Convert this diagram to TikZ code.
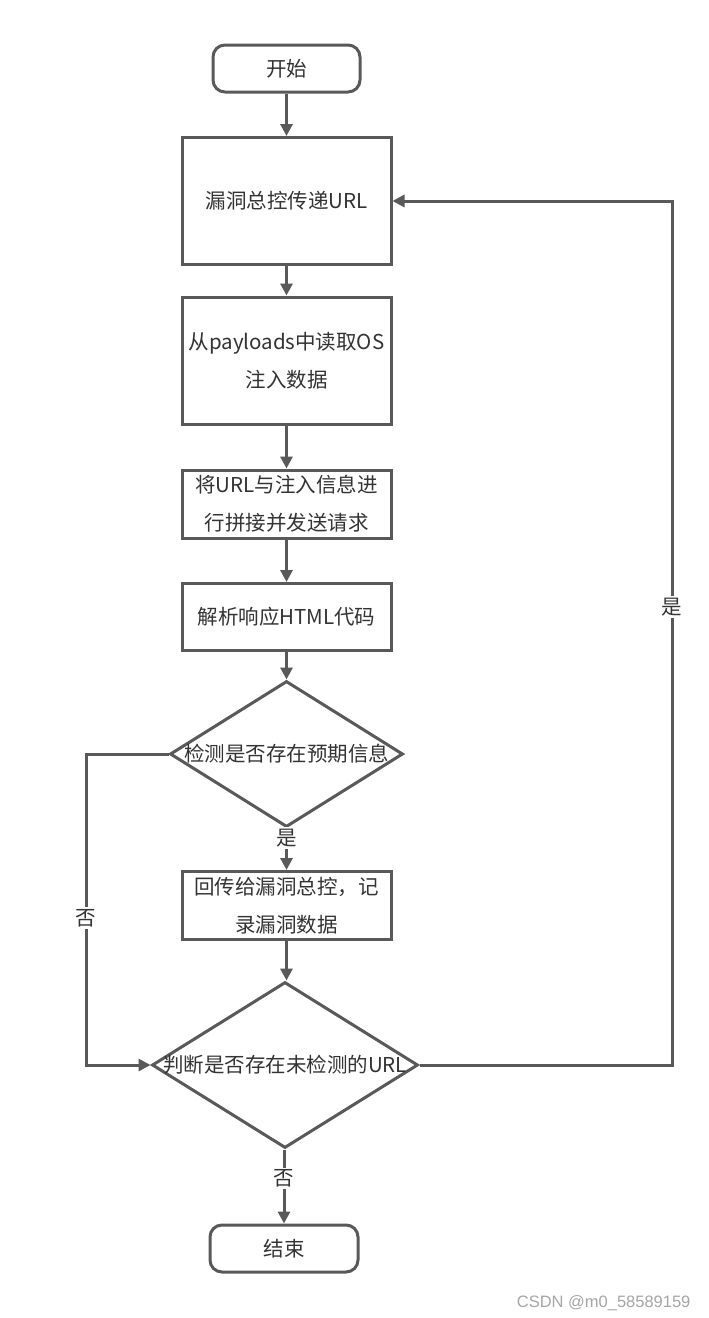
\documentclass[tikz,border=0pt]{standalone}
\usepackage{fontspec}
\setmainfont{Noto Sans CJK SC}
\newfontfamily\wmfont{Liberation Sans}
\usetikzlibrary{arrows.meta,shapes.geometric}
\definecolor{lc}{HTML}{595959}
\definecolor{tc}{HTML}{333333}
\definecolor{wm}{HTML}{A6A6A6}
\begin{document}
\begin{tikzpicture}[x=1pt,y=-1pt,
  every node/.style={text=tc,font=\fontsize{20.5}{38}\selectfont},
  box/.style={draw=lc,line width=3pt,rectangle,inner sep=0pt,minimum width=209pt,align=center},
  term/.style={draw=lc,line width=3pt,rectangle,rounded corners=12pt,inner sep=0pt,minimum width=147pt,minimum height=47pt},
  dia/.style={draw=lc,line width=3pt,diamond,inner sep=0pt},
  arr/.style={draw=lc,line width=3pt,-{Triangle[length=12pt,width=12pt]}},
  lbl/.style={fill=white,inner sep=2pt}]
\useasboundingbox (0,0) rectangle (709,1318);
\fill[white] (0,0) rectangle (709,1318);

\node[term] (start) at (286.5,68.5) {开始};
\node[box,minimum height=127pt] (b1) at (286.5,201) {漏洞总控传递URL};
\node[box,minimum height=127pt] (b2) at (286.5,360.5) {从payloads中读取OS\\注入数据};
\node[box,minimum height=68pt] (b3) at (286.5,504) {将URL与注入信息进\\行拼接并发送请求};
\node[box,minimum height=67pt] (b4) at (286.5,617) {解析响应HTML代码};
\node[dia,minimum width=233pt,minimum height=146pt] (d1) at (286.5,754) {};
\node (t1) at (d1.center) {检测是否存在预期信息};
\node[box,minimum height=68pt] (b5) at (286.5,905.5) {回传给漏洞总控，记\\录漏洞数据};
\node[dia,minimum width=266pt,minimum height=166pt] (d2) at (285,1065) {};
\node (t2) at (d2.center) {判断是否存在未检测的URL};
\node[term,minimum width=148pt] (end) at (284,1248.5) {结束};

\coordinate (lt1) at (86,754);
\coordinate (lt2) at (86,1065);
\coordinate (rt2) at (672,1065);
\coordinate (rt1) at (672,201);

\draw[arr] (start.south) -- (b1.north);
\draw[arr] (b1.south) -- (b2.north);
\draw[arr] (b2.south) -- (b3.north);
\draw[arr] (b3.south) -- (b4.north);
\draw[arr] (b4.south) -- (d1.north);
\draw[arr] (d1.south) -- node[lbl,pos=0.24]{是} (b5.north);
\draw[arr] (b5.south) -- (b5.south |- d2.north);
\draw[arr] (d1.west) -- (lt1) -- node[lbl,pos=0.527]{否} (lt2) -- (d2.west);
\draw[arr] (d2.east) -- (rt2) -- node[lbl,pos=0.53]{是} (rt1) -- (b1.east);
\draw[arr] (end.north |- d2.south) -- node[lbl,pos=0.39]{否} (end.north);

\node[text=wm,font=\wmfont\fontsize{16.5}{20}\selectfont,anchor=base east] (wmk) at (694,1307) {CSDN @m0\_58589159};
\end{tikzpicture}
\end{document}
